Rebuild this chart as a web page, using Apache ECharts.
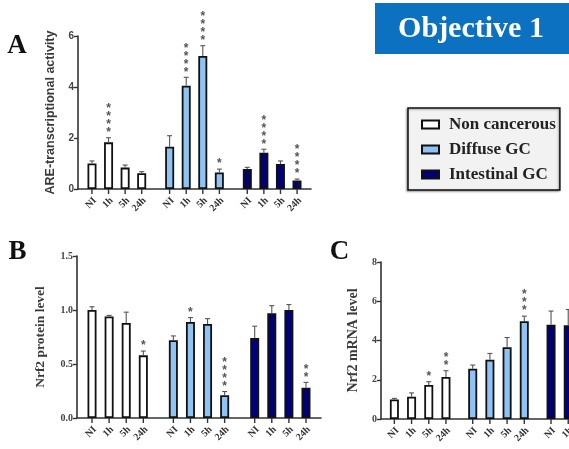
<!DOCTYPE html>
<html><head><meta charset="utf-8">
<script src="https://cdn.jsdelivr.net/npm/echarts@6/dist/echarts.min.js"></script>
<style>html,body{margin:0;padding:0;background:#fff}#c{width:569px;height:449px}</style>
</head><body><div id="c"></div>
<script>
const timepoints = ['NI', '1h', '5h', '24h'];
const groups = ['Non cancerous', 'Diffuse GC', 'Intestinal GC'];
const groupColors = ['#ffffff', '#8fc3f3', '#000078'];

// Panel A: ARE-transcriptional activity  [group][timepoint]
const aMean = [[1.0, 1.83, 0.84, 0.62], [1.66, 4.05, 5.22, 0.65], [0.78, 1.42, 0.98, 0.33]];
const aErr  = [[0.1, 0.18, 0.1, 0.06], [0.43, 0.33, 0.4, 0.13], [0.07, 0.14, 0.12, 0.06]];
const aSig  = [['', '****', '', ''], ['', '****', '****', '*'], ['', '****', '', '****']];
const aTicks = [0, 2, 4, 6];

// Panel B: Nrf2 protein level
const bMean = [[1.0, 0.94, 0.88, 0.58], [0.72, 0.89, 0.87, 0.21], [0.74, 0.97, 1.0, 0.28]];
const bErr  = [[0.03, 0.01, 0.1, 0.04], [0.04, 0.04, 0.05, 0.035], [0.11, 0.07, 0.05, 0.05]];
const bSig  = [['', '', '', '*'], ['', '*', '', '****'], ['', '', '', '**']];
const bTicks = [0.0, 0.5, 1.0, 1.5];

// Panel C: Nrf2 mRNA level (Intestinal 5h/24h are outside the picture)
const cMean = [[1.0, 1.13, 1.73, 2.14], [2.56, 3.02, 3.66, 4.98], [4.8, 4.78, null, null]];
const cErr  = [[0.05, 0.2, 0.17, 0.32], [0.19, 0.32, 0.49, 0.26], [0.7, 0.8, null, null]];
const cSig  = [['', '', '*', '**'], ['', '', '', '***'], ['', '', '', '']];
const cTicks = [0, 2, 4, 6, 8];

const panels = [
  {mean: aMean, err: aErr, sig: aSig, ticks: aTicks, title: 'ARE-transcriptional activity',
   grid: {left: 78, top: 36, width: 233, height: 153}, spacing: 16.6, nameGap: 21,
   tickFont: 'Liberation Sans', titleFont: 'Liberation Sans', titleSize: 12.5, dec: 0},
  {mean: bMean, err: bErr, sig: bSig, ticks: bTicks, title: 'Nrf2 protein level',
   grid: {left: 77, top: 256, width: 244, height: 162}, spacing: 17.1, nameGap: 29,
   tickFont: 'Liberation Serif', titleFont: 'Liberation Serif', titleSize: 13.5, dec: 1},
  {mean: cMean, err: cErr, sig: cSig, ticks: cTicks, title: 'Nrf2 mRNA level',
   grid: {left: 381, top: 262, width: 235, height: 157}, spacing: 17.2, nameGap: 21,
   tickFont: 'Liberation Serif', titleFont: 'Liberation Serif', titleSize: 14, dec: 0}
];

const BAR_W = 9;
const grids = [], xAxes = [], yAxes = [], series = [];

panels.forEach((p, pi) => {
  grids.push(Object.assign({containLabel: false, outerBoundsMode: 'none'}, p.grid));
  xAxes.push({gridIndex: pi, type: 'category', data: groups, boundaryGap: true,
    axisLine: {lineStyle: {color: '#333', width: 1.6}}, axisTick: {show: false}, axisLabel: {show: false}});
  const step = p.ticks[1] - p.ticks[0];
  yAxes.push({gridIndex: pi, type: 'value', min: p.ticks[0], max: p.ticks[p.ticks.length - 1], interval: step,
    splitLine: {show: false},
    axisLine: {show: true, lineStyle: {color: '#333', width: 1.6}},
    axisTick: {show: true, length: 4, lineStyle: {color: '#333', width: 1.4}},
    axisLabel: {fontFamily: p.tickFont, fontWeight: 'bold', fontSize: 10, color: '#444', margin: 4,
      formatter: v => v.toFixed(p.dec)},
    name: p.title, nameLocation: 'middle', nameRotate: 90, nameGap: p.nameGap,
    nameTextStyle: {fontFamily: p.titleFont, fontWeight: 'bold', fontSize: p.titleSize, color: '#3a3a3a'}});
  const gapPct = ((p.spacing - BAR_W) / BAR_W * 100).toFixed(0) + '%';
  timepoints.forEach((tp, j) => {
    series.push({type: 'bar', name: tp, xAxisIndex: pi, yAxisIndex: pi, barWidth: BAR_W, barGap: gapPct,
      itemStyle: {borderColor: '#111', borderWidth: 1.8},
      data: groups.map((g, i) => ({value: p.mean[i][j], itemStyle: {color: groupColors[i]}})),
      silent: true, animation: false});
  });
  const extra = [];
  groups.forEach((g, i) => timepoints.forEach((tp, j) => {
    extra.push([i, p.mean[i][j] == null ? NaN : p.mean[i][j], p.err[i][j] == null ? NaN : p.err[i][j], j, p.sig[i][j], tp]);
  }));
  series.push({type: 'custom', xAxisIndex: pi, yAxisIndex: pi, clip: false, silent: true, animation: false,
    z: 5, encode: {x: 0, y: 1}, data: extra,
    renderItem: (params, api) => {
      const d = extra[params.dataIndex];
      const i = d[0], v = d[1], e = d[2], j = d[3], sig = d[4], tp = d[5];
      const base = api.coord([i, p.ticks[0]]);
      const x = base[0] + (j - 1.5) * p.spacing;
      const children = [];
      children.push({type: 'line', shape: {x1: x, y1: base[1], x2: x, y2: base[1] + 5},
        style: {stroke: '#333', lineWidth: 1.4}});
      children.push({type: 'text', x: x + 3, y: base[1] + 10, rotation: Math.PI / 4,
        style: {text: tp, align: 'right', verticalAlign: 'middle', fill: '#333',
          font: 'bold 10px "Liberation Serif"'}});
      if (!isNaN(v)) {
        const yv = api.coord([i, v])[1];
        const yt = api.coord([i, v + e])[1];
        children.push({type: 'line', shape: {x1: x, y1: yv, x2: x, y2: yt}, style: {stroke: '#555', lineWidth: 1.1}});
        children.push({type: 'line', shape: {x1: x - 2.5, y1: yt, x2: x + 2.5, y2: yt}, style: {stroke: '#555', lineWidth: 1.1}});
        if (sig) {
          children.push({type: 'text', x: x, y: yt - 1,
            style: {text: sig.split('').join('\n'), align: 'center', verticalAlign: 'bottom',
              lineHeight: 8, fill: '#555', font: 'bold 12px "Liberation Sans"'}});
        }
      }
      return {type: 'group', children: children};
    }});
});

// hidden grid for legend entries
grids.push({left: 0, top: 0, width: 1, height: 1, show: false});
xAxes.push({gridIndex: 3, show: false, type: 'category', data: ['x']});
yAxes.push({gridIndex: 3, show: false, type: 'value'});
groups.forEach((g, i) => series.push({type: 'bar', name: g, xAxisIndex: 3, yAxisIndex: 3, data: [],
  itemStyle: {color: groupColors[i], borderColor: '#111', borderWidth: 1.5}}));

const option = {
  animation: false,
  backgroundColor: '#ffffff',
  grid: grids, xAxis: xAxes, yAxis: yAxes, series: series,
  legend: {data: groups, orient: 'vertical', left: 408, top: 108, selectedMode: false,
    icon: 'rect', itemWidth: 17, itemHeight: 8, itemGap: 8,
    padding: [8, 4, 7, 13], backgroundColor: '#f2f2f2', borderColor: '#111', borderWidth: 1.5,
    shadowColor: 'rgba(0,0,0,0.35)', shadowBlur: 2, shadowOffsetX: -1, shadowOffsetY: 1,
    textStyle: {fontFamily: 'Liberation Serif', fontWeight: 'bold', fontSize: 17, color: '#222', padding: [0, 0, 0, 5]}},
  graphic: [
    {type: 'rect', left: 375, top: 3, shape: {width: 194, height: 51}, style: {fill: '#0b71c0'}},
    {type: 'text', x: 471, y: 29, style: {text: 'Objective 1', fill: '#fff', align: 'center', verticalAlign: 'middle',
      font: 'bold 30px "Liberation Serif"'}},
    {type: 'text', x: 17, y: 46, style: {text: 'A', fill: '#111', align: 'center', verticalAlign: 'middle', font: 'bold 27px "Liberation Serif"'}},
    {type: 'text', x: 17.5, y: 252, style: {text: 'B', fill: '#111', align: 'center', verticalAlign: 'middle', font: 'bold 27px "Liberation Serif"'}},
    {type: 'text', x: 339.5, y: 252, style: {text: 'C', fill: '#111', align: 'center', verticalAlign: 'middle', font: 'bold 27px "Liberation Serif"'}}
  ]
};
const chart = echarts.init(document.getElementById('c'), null, {renderer: 'canvas'});
chart.setOption(option);
</script></body></html>
